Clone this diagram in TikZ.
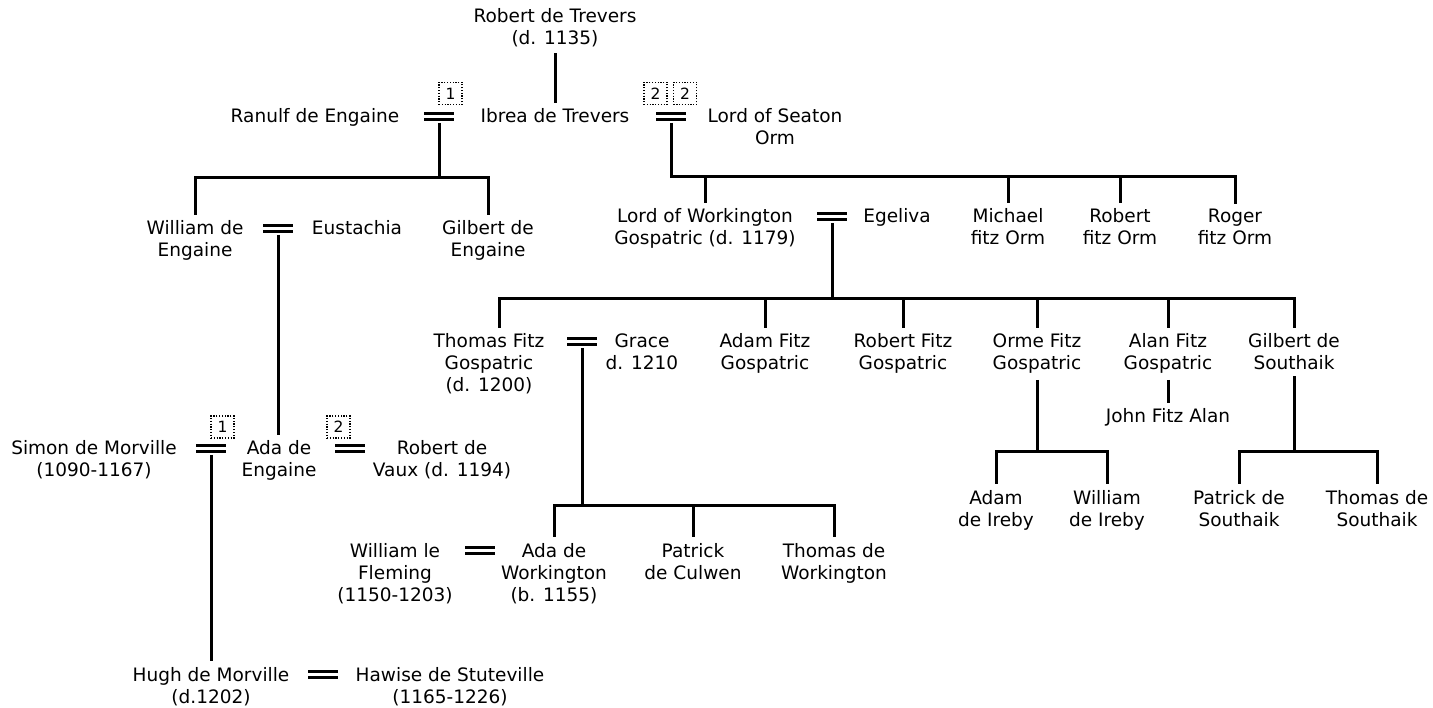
\documentclass[tikz,border=0pt]{standalone}
\usepackage{fontspec}
\setmainfont{DejaVu Sans}
\usepackage{tikz}

\begin{document}
\begin{tikzpicture}[x=1pt,y=-1pt,line width=3pt,
                    font=\fontsize{18.5}{22}\selectfont,
                    person/.style={align=center,anchor=base,inner sep=4.5pt},
                    marriage/.style={minimum width=30pt,minimum height=10pt,inner sep=0pt,
                      path picture={\draw[line width=2.8pt]
                        ([yshift=3.2pt]path picture bounding box.west) -- ([yshift=3.2pt]path picture bounding box.east)
                        ([yshift=-3.2pt]path picture bounding box.west) -- ([yshift=-3.2pt]path picture bounding box.east);}},
                    numbox/.style={draw,line width=1.2pt,dash pattern=on 1.2pt off 1.6pt,
                      minimum width=23pt,minimum height=22pt,inner sep=0pt,font=\fontsize{15.5}{15.5}\selectfont}]

		\useasboundingbox (0,0) rectangle (1433,708);

		% generation 1 and 2 (base = baseline of the last line)
		\node[person] (rtrevers) at (555,45) {Robert de Trevers\\(d. 1135)};
		\node[person] (ranulf) at (315,123) {Ranulf de Engaine};
		\node[person] (ibrea) at (555,123) {Ibrea de Trevers};
		\node[person] (seaton) at (775,145) {Lord of Seaton\\Orm};
		\node[marriage] (m1) at (439,116.5) {};
		\node[marriage] (m2) at (671,116.5) {};
		\node[numbox] (n1) at (450.5,93.5) {1};
		\node[numbox] (n2) at (655.5,93.5) {2};
		\node[numbox] (n3) at (685,93.5) {2};

		% children of Ranulf and Ibrea
		\node[person] (william) at (195,257) {William de\\Engaine};
		\node[marriage] (m3) at (278,228.5) {};
		\node[person] (eustachia) at (357,235) {Eustachia};
		\node[person] (gilbert) at (488,257) {Gilbert de\\Engaine};

		% children of the Lord of Seaton and Ibrea
		\node[person] (lordw) at (705,245) {Lord of Workington\\Gospatric (d. 1179)};
		\node[marriage] (m4) at (832,216.5) {};
		\node[person] (egeliva) at (897,223) {Egeliva};
		\node[person] (michael) at (1008,245) {Michael\\fitz Orm};
		\node[person] (robertf) at (1120,245) {Robert\\fitz Orm};
		\node[person] (roger) at (1235,245) {Roger\\fitz Orm};

		% children of Gospatric and Egeliva
		\node[person] (thomas) at (489,392) {Thomas Fitz\\Gospatric\\(d. 1200)};
		\node[marriage] (m5) at (582,341.5) {};
		\node[person] (grace) at (642,370) {Grace\\d. 1210};
		\node[person] (adam) at (765,370) {Adam Fitz\\Gospatric};
		\node[person] (robertg) at (903,370) {Robert Fitz\\Gospatric};
		\node[person] (orme) at (1037,370) {Orme Fitz\\Gospatric};
		\node[person] (alan) at (1168,370) {Alan Fitz\\Gospatric};
		\node[person] (gilberts) at (1294,370) {Gilbert de\\Southaik};
		\node[person] (john) at (1168,423) {John Fitz Alan};

		% Ada de Engaine and her husbands
		\node[person] (simon) at (94,477) {Simon de Morville\\(1090-1167)};
		\node[marriage] (m6) at (211,448.5) {};
		\node[person] (ada) at (279,477) {Ada de\\Engaine};
		\node[marriage] (m7) at (350,448.5) {};
		\node[person] (vaux) at (442,477) {Robert de\\Vaux (d. 1194)};
		\node[numbox] (n4) at (222.5,427) {1};
		\node[numbox] (n5) at (338.5,427) {2};

		% grandchildren of Gospatric
		\node[person] (adami) at (996,526) {Adam\\de Ireby};
		\node[person] (williami) at (1107,526) {William\\de Ireby};
		\node[person] (patrick) at (1239,526) {Patrick de\\Southaik};
		\node[person] (thomass) at (1377,526) {Thomas de\\Southaik};

		\node[person] (fleming) at (395,601) {William le\\Fleming\\(1150-1203)};
		\node[marriage] (m8) at (480,550.5) {};
		\node[person] (adaw) at (554,601) {Ada de\\Workington\\(b. 1155)};
		\node[person] (culwen) at (693,579) {Patrick\\de Culwen};
		\node[person] (thomasw) at (834,579) {Thomas de\\Workington};

		\node[person] (hugh) at (211,703) {Hugh de Morville\\(d.1202)};
		\node[marriage] (m9) at (323,674.5) {};
		\node[person] (hawise) at (450,703) {Hawise de Stuteville\\(1165-1226)};

		% descent lines
		\coordinate (bus1) at (439,178);
		\coordinate (bus2) at (671,177);
		\coordinate (bus3) at (832,299);
		\coordinate (bus4) at (1037,452);
		\coordinate (bus5) at (1294,452);
		\coordinate (bus6) at (582,505);

		\draw (rtrevers.south) -- (ibrea.north);
		\draw (m1.south) -- (bus1);
		\draw (william.north) |- (bus1) -| (gilbert.north);
		\draw (m2.south) -- (bus2) -| (roger.north);
		\foreach \c in {lordw,michael,robertf}
			\draw (\c.north) -- (\c.north |- bus2);
		\draw (m3.south) -- (m3.south |- ada.north);
		\draw (m4.south) -- (bus3);
		\draw ([xshift=10pt]thomas.north) |- (bus3) -| (gilberts.north);
		\foreach \c in {adam,robertg,orme,alan}
			\draw (\c.north) -- (\c.north |- bus3);
		\draw (alan.south) -- (john.north);
		\draw (orme.south) -- (bus4);
		\draw (adami.north) |- (bus4) -| (williami.north);
		\draw (gilberts.south) -- (bus5);
		\draw (patrick.north) |- (bus5) -| (thomass.north);
		\draw (m5.south) -- (bus6);
		\draw (adaw.north) |- (bus6) -| (thomasw.north);
		\draw (culwen.north) -- (culwen.north |- bus6);
		\draw (m6.south) -- (m6.south |- hugh.north);
	\end{tikzpicture}
\end{document}
